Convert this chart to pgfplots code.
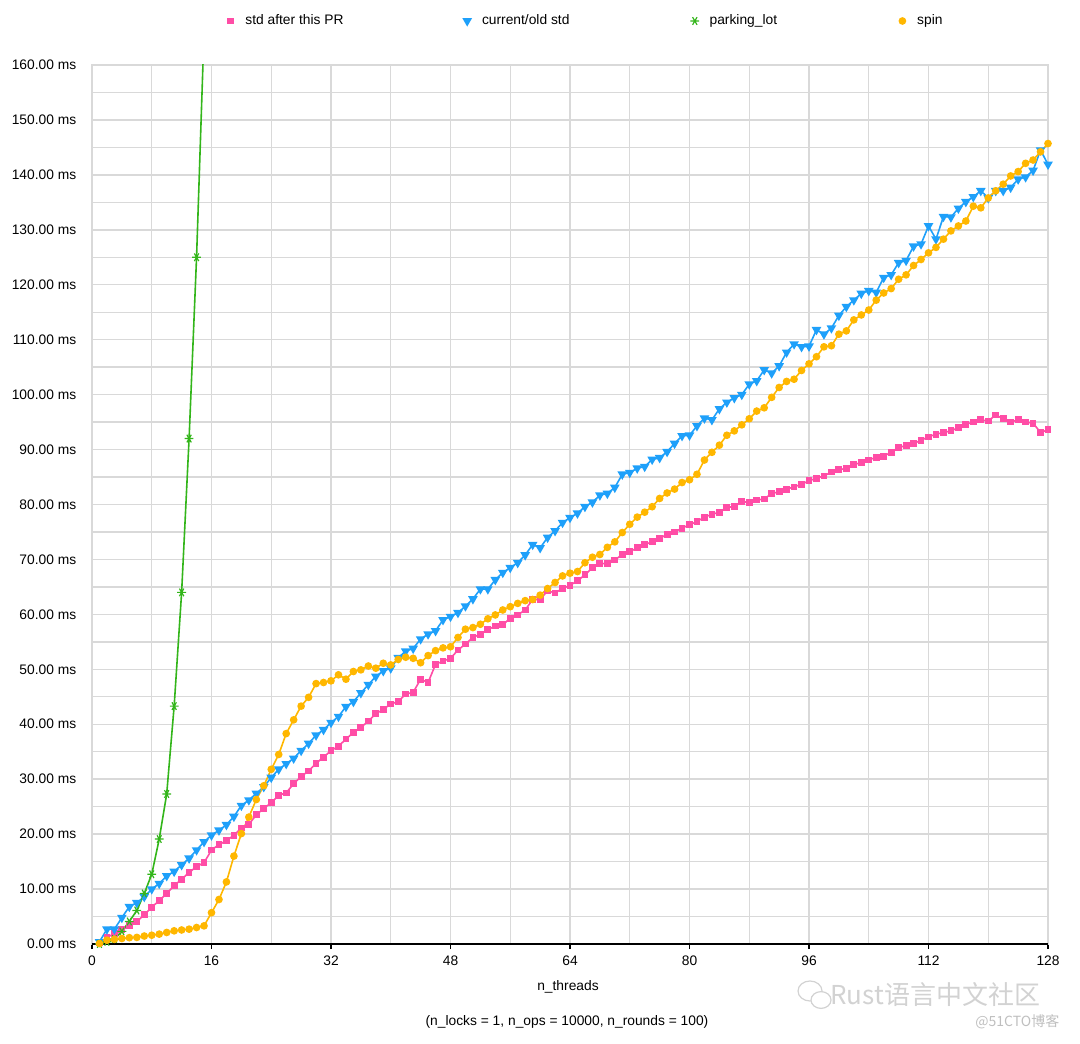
\documentclass[border=0pt]{standalone}
\usepackage{pgfplots}
\pgfplotsset{compat=1.18}
\usepackage{fontspec}
\setmainfont{Liberation Sans}
\newfontfamily\cjk{Noto Sans CJK SC}
\definecolor{pinkc}{HTML}{FF4DA6}
\definecolor{bluec}{HTML}{1EA0FA}
\definecolor{greenc}{HTML}{33B51A}
\definecolor{yellowc}{HTML}{FFB700}
\definecolor{gridc}{HTML}{D9D9D9}
\newcommand{\lf}{\fontsize{6.9}{8}\selectfont}

\pgfplotstableread{
x y
1 0.2
2 1.2
3 1.9
4 2.6
5 3.3
6 4.1
7 5.3
8 6.7
9 7.9
10 9.2
11 10.6
12 11.8
13 13.0
14 14.1
15 14.8
16 17.1
17 18.1
18 18.8
19 19.8
20 21.1
21 21.8
22 23.5
23 24.7
24 25.7
25 27.1
26 27.5
27 29.2
28 30.5
29 31.5
30 32.9
31 34.0
32 35.2
33 36.0
34 37.3
35 38.5
36 39.4
37 40.6
38 41.9
39 42.7
40 43.7
41 44.1
42 45.5
43 45.8
44 48.2
45 47.6
46 50.9
47 51.5
48 52.0
49 53.5
50 54.6
51 55.8
52 56.4
53 57.2
54 57.9
55 58.1
56 59.3
57 59.9
58 60.8
59 62.7
60 62.7
61 64.3
62 63.9
63 64.7
64 65.3
65 66.1
66 67.2
67 68.5
68 69.2
69 69.3
70 69.9
71 70.9
72 71.4
73 72.1
74 72.7
75 73.2
76 73.8
77 74.6
78 75.0
79 75.7
80 76.3
81 76.9
82 77.7
83 78.2
84 78.6
85 79.5
86 79.6
87 80.5
88 80.4
89 80.8
90 81.0
91 82.0
92 82.3
93 82.8
94 83.2
95 83.7
96 84.3
97 84.8
98 85.2
99 85.9
100 86.3
101 86.6
102 87.3
103 87.6
104 88.1
105 88.6
106 88.8
107 89.5
108 90.4
109 90.7
110 91.1
111 91.7
112 92.3
113 92.8
114 93.1
115 93.4
116 94.0
117 94.6
118 95.0
119 95.4
120 95.2
121 96.3
122 95.6
123 95.0
124 95.4
125 95.0
126 94.8
127 93.1
128 93.6
}\stdnew

\pgfplotstableread{
x y
1 0.4
2 2.7
3 2.7
4 4.8
5 6.8
6 7.5
7 8.6
8 10.0
9 11.0
10 12.4
11 13.2
12 14.4
13 15.6
14 17.1
15 18.6
16 19.8
17 20.7
18 21.7
19 23.2
20 25.2
21 26.2
22 27.4
23 28.6
24 30.3
25 31.8
26 32.8
27 33.8
28 35.2
29 36.5
30 38.0
31 39.0
32 40.3
33 41.4
34 43.2
35 44.1
36 45.7
37 47.2
38 48.7
39 49.7
40 50.2
41 52.1
42 53.3
43 53.8
44 55.5
45 56.4
46 57.0
47 59.0
48 59.6
49 60.3
50 61.5
51 62.8
52 64.6
53 64.6
54 66.3
55 67.6
56 68.5
57 69.4
58 70.8
59 72.7
60 72.1
61 74.0
62 75.2
63 76.7
64 77.6
65 78.4
66 79.6
67 80.4
68 81.7
69 82.0
70 83.1
71 85.5
72 85.8
73 86.6
74 86.9
75 88.2
76 88.5
77 89.6
78 91.1
79 92.5
80 92.6
81 94.3
82 95.7
83 95.4
84 97.4
85 98.6
86 99.4
87 100.0
88 101.9
89 102.5
90 104.5
91 103.9
92 105.2
93 107.7
94 109.2
95 108.7
96 108.8
97 111.8
98 111.0
99 112.1
100 114.4
101 116.0
102 117.2
103 118.4
104 118.9
105 118.6
106 121.3
107 121.8
108 124.0
109 124.4
110 127.0
111 127.4
112 130.7
113 128.3
114 132.4
115 132.3
116 133.9
117 135.1
118 136.0
119 137.1
120 135.8
121 137.1
122 137.1
123 137.7
124 139.2
125 139.6
126 140.8
127 144.5
128 141.9
}\stdold

\pgfplotstableread{
x y
1 0.0
2 0.4
3 0.9
4 2.3
5 4.1
6 6.1
7 9.2
8 12.7
9 19.1
10 27.3
11 43.3
12 64.0
13 92.0
14 125.0
15 166.0
}\parking

\pgfplotstableread{
x y
1 0.1
2 0.7
3 0.85
4 1.0
5 1.15
6 1.2
7 1.45
8 1.6
9 1.8
10 2.1
11 2.4
12 2.55
13 2.7
14 3.0
15 3.3
16 5.7
17 8.1
18 11.3
19 16.0
20 20.1
21 23.1
22 26.3
23 28.8
24 31.8
25 34.5
26 38.3
27 40.8
28 43.3
29 44.9
30 47.4
31 47.6
32 47.9
33 49.0
34 48.2
35 49.6
36 49.9
37 50.6
38 50.2
39 51.1
40 50.8
41 51.8
42 52.2
43 52.0
44 51.2
45 52.5
46 53.4
47 53.9
48 54.1
49 55.8
50 57.3
51 57.6
52 58.2
53 59.2
54 59.9
55 60.8
56 61.4
57 62.0
58 62.5
59 62.7
60 63.5
61 64.7
62 65.8
63 67.0
64 67.5
65 67.8
66 69.4
67 70.4
68 70.9
69 72.2
70 73.2
71 74.9
72 76.4
73 77.7
74 78.6
75 79.6
76 81.1
77 82.1
78 82.8
79 84.0
80 84.5
81 85.5
82 88.1
83 89.5
84 90.8
85 92.6
86 93.4
87 94.5
88 95.6
89 97.0
90 97.6
91 99.5
92 101.3
93 102.4
94 102.8
95 104.4
96 105.6
97 106.9
98 108.7
99 108.9
100 111.0
101 111.6
102 113.6
103 114.5
104 115.4
105 117.2
106 118.5
107 119.3
108 121.0
109 121.8
110 123.5
111 124.6
112 125.8
113 126.8
114 128.3
115 129.8
116 130.7
117 131.6
118 134.3
119 134.0
120 135.8
121 137.1
122 138.3
123 139.8
124 140.6
125 142.1
126 142.7
127 144.2
128 145.7
}\spin

\begin{document}
\begin{tikzpicture}
\useasboundingbox (-46pt,-49.5pt) rectangle (494pt,472pt);
\begin{axis}[
  at={(0,0)}, anchor=south west,
  scale only axis, width=478pt, height=439.5pt,
  xmin=0, xmax=128, ymin=0, ymax=160,
  xtick={0,16,...,128}, minor x tick num=1,
  ytick={0,10,...,160}, minor y tick num=1,
  xtick pos=bottom, ytick pos=left,
  grid=both,
  major grid style={gridc, line width=0.7pt},
  minor grid style={gridc, line width=0.7pt},
  axis line style={gridc, line width=0.7pt},
  tick align=outside, major tick length=2.5pt, minor tick length=0pt,
  xtick style={black, line width=0.6pt},
  ytick style={draw=none},
  tick label style={font=\lf},
  /pgf/number format/assume math mode=true,
  yticklabel={\pgfmathprintnumber[fixed,fixed zerofill,precision=2]{\tick}~ms},
  yticklabel style={anchor=east, inner sep=0pt, xshift=-5pt},
  xticklabel style={anchor=north, inner sep=0pt, yshift=-3pt},
  legend columns=4,
  legend style={draw=none, fill=none, inner sep=0pt, font=\lf,
    at={(0,1)}, anchor=west, xshift=66pt, yshift=22pt,
    nodes={inner sep=0pt, anchor=west}, column sep=0pt},
  legend image code/.code={\path (-2.5pt,0pt) (2.5pt,0pt); \draw[#1] plot[only marks] coordinates {(0pt,0pt)};},
  line width=0.8pt,
]
\addplot[pinkc, mark=square*, mark size=1.3pt, mark options={fill=pinkc, draw=pinkc}] table[x=x,y=y] {\stdnew};
\addlegendentry{\makebox[112.5pt][l]{\hspace{4.5pt}std after this PR}}
\addplot[bluec, mark=triangle*, mark size=2pt, mark options={fill=bluec, draw=bluec, rotate=180}] table[x=x,y=y] {\stdold};
\addlegendentry{\makebox[108pt][l]{\hspace{4.5pt}current/old std}}
\addplot[greenc, mark=asterisk, mark size=2.2pt, mark options={draw=greenc, line width=0.6pt, rotate=90}] table[x=x,y=y] {\parking};
\addlegendentry{\makebox[98pt][l]{\hspace{4.5pt}parking\_lot}}
\addplot[yellowc, mark=*, mark size=1.5pt, mark options={fill=yellowc, draw=yellowc}] table[x=x,y=y] {\spin};
\addlegendentry{\hspace{4.5pt}spin}
\draw[black, line width=1pt] (rel axis cs:0,0) -- (rel axis cs:1,0);
\end{axis}
\node[font=\lf, inner sep=0pt] at (238pt,-21.5pt) {n\_threads};
\node[font=\lf, inner sep=0pt] at (237.5pt,-39pt) {(n\_locks = 1, n\_ops = 10000, n\_rounds = 100)};
\node[font=\cjk\fontsize{13}{15}\selectfont, text=gray!35, anchor=west, inner sep=0pt] at (369pt,-25.5pt) {Rust语言中文社区};
\draw[gray!35, line width=0.6pt] (359pt,-23.5pt) ellipse (6pt and 5pt);
\draw[gray!35, line width=0.6pt, fill=white] (364.5pt,-28pt) ellipse (5pt and 4.2pt);
\node[font=\cjk\fontsize{7}{8}\selectfont, text=gray!50, anchor=west, inner sep=0pt] at (441.5pt,-39pt) {@51CTO博客};
\end{tikzpicture}
\end{document}
